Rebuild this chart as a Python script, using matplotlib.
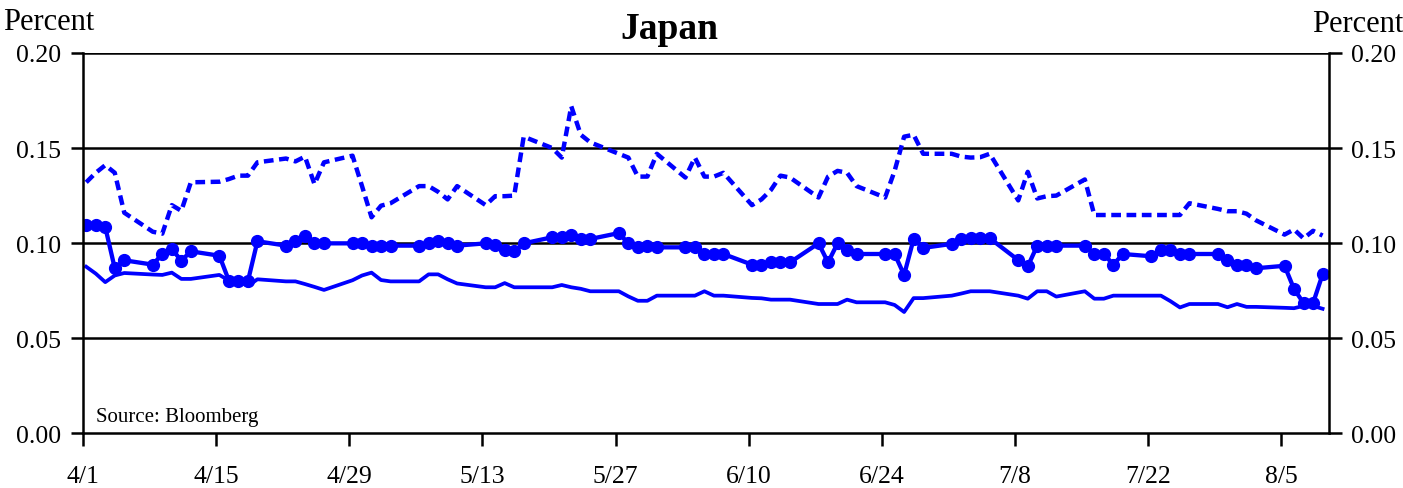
import matplotlib
matplotlib.use("Agg")
import matplotlib.pyplot as plt
import pandas as pd

plt.rcParams['font.family'] = ['Liberation Serif', 'DejaVu Serif']
plt.rcParams['lines.scale_dashes'] = False

# business days 4/1 - 8/9
dates = pd.bdate_range('2013-04-01', '2013-08-09')

upper = [0.132, 0.137, 0.141, 0.137, 0.116,
         0.106, 0.105, 0.120, 0.117, 0.132,
         0.1323, 0.1337, 0.1355, 0.1355, 0.1425,
         0.1445, 0.143, 0.1455, 0.131, 0.1425,
         0.146, 0.130, 0.1136, 0.1197, 0.121,
         0.130, 0.130, 0.127, 0.123, 0.130,
         0.120, 0.1247, 0.1247, 0.125, 0.156,
         0.150, 0.145, 0.172, 0.157, 0.153,
         0.147, 0.145, 0.135, 0.135, 0.147,
         0.1345, 0.145, 0.135, 0.135, 0.137,
         0.120, 0.123, 0.128, 0.1355, 0.1345,
         0.124, 0.135, 0.138, 0.137, 0.130,
         0.124, 0.138, 0.156, 0.157, 0.147,
         0.147, 0.1455, 0.145, 0.1452, 0.147,
         0.1225, 0.1375, 0.1235, 0.1247, 0.125,
         0.1335, 0.1148, 0.1148, 0.1148, 0.1148,
         0.1148, 0.1148, 0.1148, 0.1148, 0.121,
         0.118, 0.1168, 0.1168, 0.1155, 0.112,
         0.1045, 0.1072, 0.1025, 0.1065, 0.104]

middle = [0.1095, 0.1095, 0.1085, 0.0868, 0.091,
          0.0887, 0.0943, 0.0969, 0.0908, 0.0957,
          0.0934, 0.0803, 0.0803, 0.080, 0.101,
          0.0987, 0.1011, 0.104, 0.0999, 0.0999,
          0.0999, 0.0999, 0.0987, 0.0987, 0.0987,
          0.0987, 0.0999, 0.101, 0.0999, 0.0987,
          0.0999, 0.099, 0.0966, 0.0957, 0.0999,
          0.1031, 0.1031, 0.1043, 0.1022, 0.1022,
          0.1053, 0.0999, 0.0978, 0.0987, 0.0978,
          0.0978, 0.0978, 0.0943, 0.0943, 0.0943,
          0.0887, 0.0887, 0.0899, 0.0899, 0.0899,
          0.0999, 0.0899, 0.0999, 0.0966, 0.0943,
          0.0943, 0.0943, 0.0833, 0.1022, 0.0975,
          0.0996, 0.1022, 0.1026, 0.1026, 0.1026,
          0.0911, 0.0878, 0.0987, 0.0987, 0.0987,
          0.0987, 0.0943, 0.0943, 0.0887, 0.0943,
          0.0931, 0.0966, 0.0966, 0.0943, 0.0943,
          0.0943, 0.0911, 0.0887, 0.0887, 0.0868,
          0.0881, 0.0759, 0.0685, 0.0685, 0.0836]

lower = [0.0876, 0.084, 0.0795, 0.083, 0.0843,
         0.0835, 0.0833, 0.0845, 0.0812, 0.0812,
         0.0833, 0.0803, 0.0803, 0.0775, 0.081,
         0.0799, 0.0799, 0.0785, 0.077, 0.0754,
         0.0805, 0.083, 0.0845, 0.0806, 0.0799,
         0.0799, 0.0836, 0.0836, 0.081, 0.0788,
         0.0768, 0.0768, 0.079, 0.0768, 0.0768,
         0.0768, 0.078, 0.0768, 0.076, 0.0747,
         0.0747, 0.072, 0.0697, 0.0697, 0.0724,
         0.0724, 0.0724, 0.0747, 0.0724, 0.0724,
         0.0712, 0.071, 0.0703, 0.0703, 0.0703,
         0.068, 0.068, 0.068, 0.0703, 0.0689,
         0.0689, 0.0675, 0.0638, 0.0711, 0.0711,
         0.0724, 0.0735, 0.0747, 0.0747, 0.0747,
         0.0724, 0.0708, 0.0747, 0.0747, 0.0719,
         0.0747, 0.0708, 0.0708, 0.0724, 0.0724,
         0.0724, 0.0724, 0.0695, 0.0662, 0.068,
         0.068, 0.0663, 0.068, 0.0665, 0.0665,
         0.066, 0.0658, 0.067, 0.067, 0.0655]

tick_dates = pd.date_range('2013-04-01', '2013-08-05', freq='14D')
yticks = [0.00, 0.05, 0.10, 0.15, 0.20]

fig = plt.figure(figsize=(14.03, 4.89), dpi=100)
ax = fig.add_axes([0.0592, 0.1118, 0.888, 0.7778])

xs = dates + pd.Timedelta(hours=8)
blue = '#0000ff'
ax.plot(xs, upper, color=blue, lw=3.2, dashes=(7, 4))
ax.plot(xs, lower, color=blue, lw=2.7)
ax.plot(xs, middle, color=blue, lw=3.1, marker='o', ms=8.5)

ax.set_ylim(0, 0.2)
ax.set_xlim(pd.Timestamp('2013-04-01'), pd.Timestamp('2013-08-10'))
ax.set_yticks(yticks)
ax.set_yticklabels([f"{v:.2f}" for v in yticks])
ax.set_xticks(tick_dates)
ax.set_xticklabels([f"{d.month}/{d.day}" for d in tick_dates])

# horizontal reference lines
for v in yticks[1:]:
    ax.axhline(v, color='black', lw=1.8, zorder=0)

for s in ax.spines.values():
    s.set_linewidth(1.8)
ax.spines['top'].set_visible(False)

ax.tick_params(axis='y', which='both', direction='out', length=9, width=1.8,
               labelsize=18.5, left=True, right=True, labelleft=True, labelright=True, pad=7)
ax.tick_params(axis='x', direction='out', length=9, width=1.8, labelsize=18.5, pad=14)

fig.text(0.002, 0.955, 'Percent', fontsize=22, ha='left', va='center')
fig.text(1.0, 0.95, 'Percent', fontsize=22, ha='right', va='center')
fig.text(0.477, 0.94, 'Japan', fontsize=27, fontweight='bold', ha='center', va='center')
ax.text(0.01, 0.045, 'Source: Bloomberg', transform=ax.transAxes, fontsize=15,
        ha='left', va='center')

fig.savefig('out.png', dpi=100)
